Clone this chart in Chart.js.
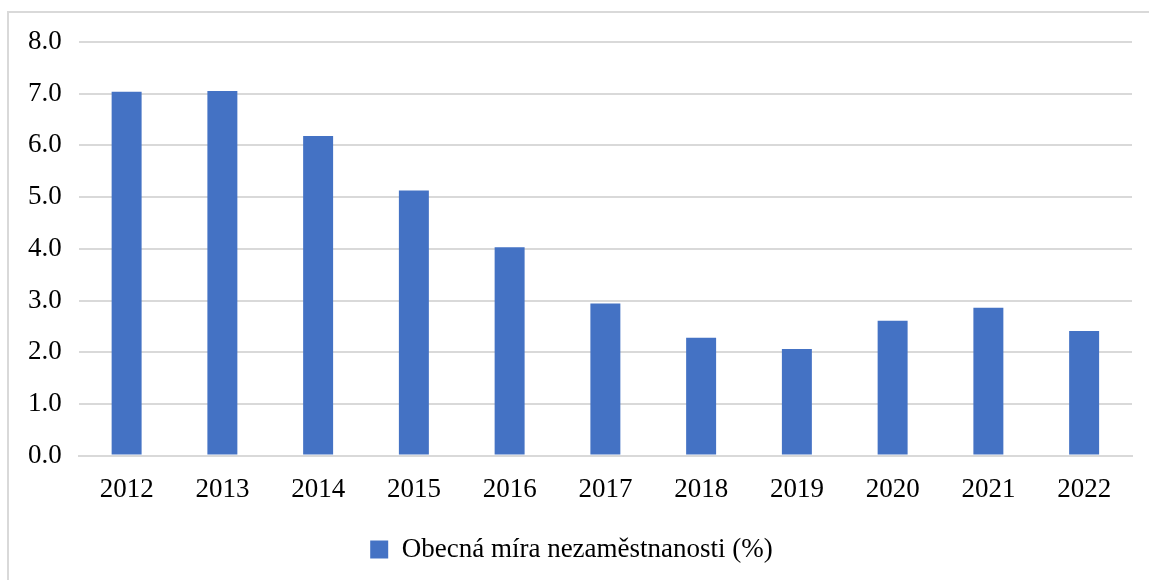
<!DOCTYPE html>
<html>
<head>
<meta charset="utf-8">
<script src="https://cdn.jsdelivr.net/npm/chart.js@4/dist/chart.umd.min.js"></script>
<style>
  html, body { margin: 0; padding: 0; background: #fff; }
  #wrap { position: relative; width: 1149px; height: 580px; }
  #frame { position: absolute; left: 7px; top: 11px; right: -10px; bottom: -10px;
           border-left: 2px solid #d9d9d9; border-top: 2px solid #d9d9d9; pointer-events: none; }
</style>
</head>
<body>
<div id="wrap">
  <canvas id="myChart" width="1149" height="580"></canvas>
  <div id="frame"></div>
</div>
<script>
const years = ['2012', '2013', '2014', '2015', '2016', '2017', '2018', '2019', '2020', '2021', '2022'];
const unemployment = [7.04, 7.05, 6.18, 5.13, 4.03, 2.94, 2.28, 2.06, 2.61, 2.86, 2.41];
const seriesLabel = 'Obecná míra nezaměstnanosti (%)';

const ctx = document.getElementById('myChart');

new Chart(ctx, {
  type: 'bar',
  data: {
    labels: years,
    datasets: [{
      label: seriesLabel,
      data: unemployment,
      backgroundColor: '#4472c4',
      borderWidth: 0,
      categoryPercentage: 1,
      barPercentage: 0.313
    }]
  },
  options: {
    responsive: false,
    animation: false,
    layout: { padding: { left: 11, right: 17, top: 42, bottom: 7 } },
    plugins: {
      tooltip: { enabled: false },
      legend: {
        position: 'bottom',
        labels: {
          color: '#000',
          font: { family: 'Liberation Serif', size: 27 },
          boxWidth: 18,
          boxHeight: 18,
          padding: 20
        }
      }
    },
    scales: {
      x: {
        grid: { display: false },
        border: { color: '#d9d9d9', width: 2 },
        ticks: { color: '#000', font: { family: 'Liberation Serif', size: 27 }, padding: 10 }
      },
      y: {
        min: 0,
        max: 8,
        ticks: {
          stepSize: 1,
          color: '#000',
          font: { family: 'Liberation Serif', size: 27 },
          padding: 17,
          callback: v => v.toFixed(1)
        },
        grid: { color: '#d9d9d9', lineWidth: 2, drawTicks: false },
        border: { display: false }
      }
    }
  }
});
</script>
</body>
</html>
